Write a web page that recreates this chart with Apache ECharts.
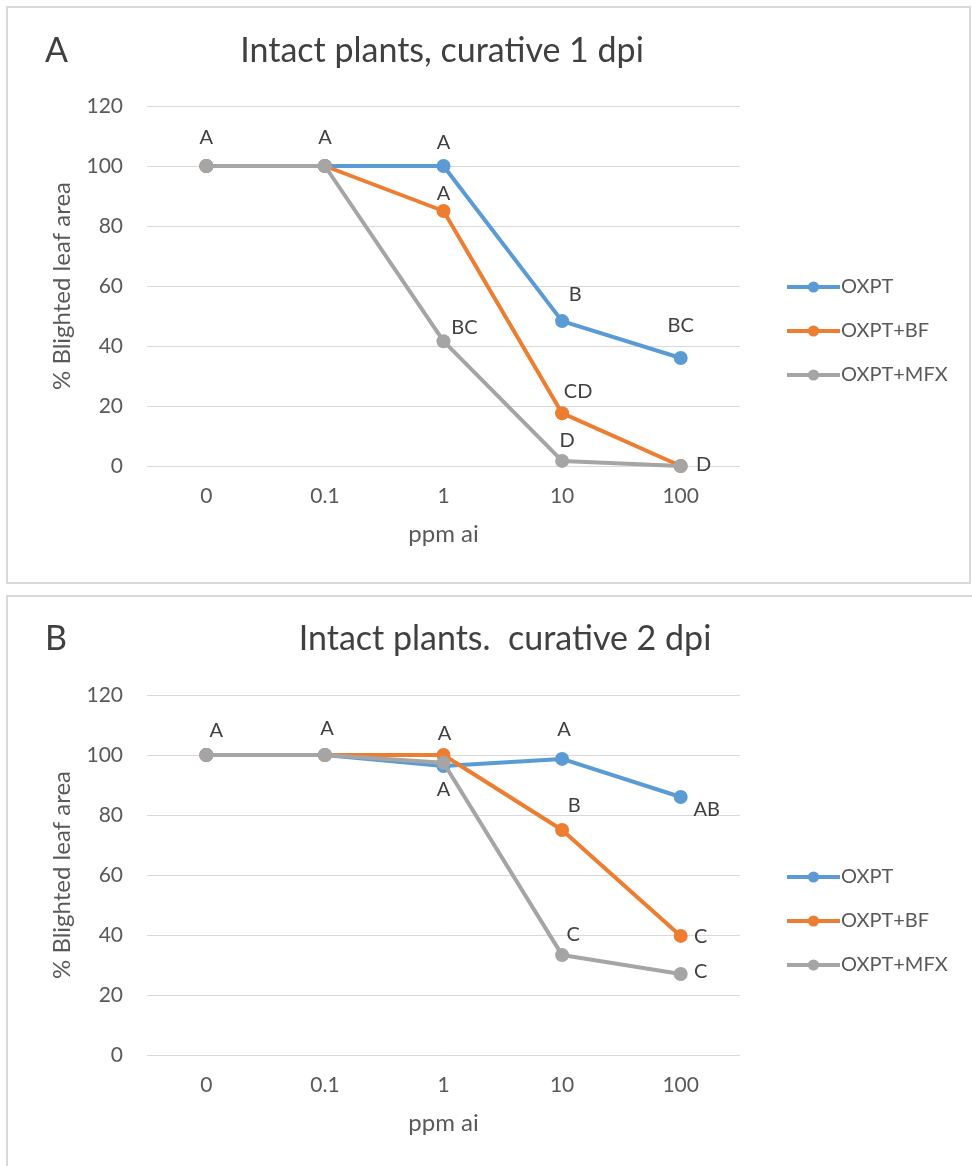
<!DOCTYPE html>
<html>
<head>
<meta charset="utf-8">
<script src="https://cdn.jsdelivr.net/npm/echarts@6/dist/echarts.min.js"></script>
<style>
html,body{margin:0;padding:0;background:#fff;}
#chart{width:972px;height:1166px;}
</style>
</head>
<body>
<div id="chart"></div>
<script>
// ---- data ----
const categories = ['0', '0.1', '1', '10', '100'];
const seriesNames = ['OXPT', 'OXPT+BF', 'OXPT+MFX'];
const yTicks = [0, 20, 40, 60, 80, 100, 120];

// Panel A: Intact plants, curative 1 dpi
const titleA = 'Intact plants, curative 1 dpi';
const oxptA = [100, 100, 100, 48.3, 36];
const oxptBfA = [100, 100, 85, 17.6, 0];
const oxptMfxA = [100, 100, 41.6, 1.7, 0];
const lettersOxptA = ['', '', 'A', 'B', 'BC'];
const lettersOxptBfA = ['', '', 'A', 'CD', ''];
const lettersOxptMfxA = ['A', 'A', 'BC', 'D', 'D'];

// Panel B: Intact plants. curative 2 dpi
const titleB = 'Intact plants.  curative 2 dpi';
const oxptB = [100, 100, 96.3, 98.7, 86];
const oxptBfB = [100, 100, 100, 75, 39.7];
const oxptMfxB = [100, 100, 97.4, 33.3, 27];
const lettersOxptB = ['', '', 'A', 'A', 'AB'];
const lettersOxptBfB = ['', '', 'A', 'B', 'C'];
const lettersOxptMfxB = ['A', 'A', '', 'C', 'C'];

// ---- styling (label offsets relative to point centre, px) ----
const offOxptA = [[0,0],[0,0],[0,-23],[13,-27],[0,-32]];
const offOxptBfA = [[0,0],[0,0],[0,-17],[16,-22],[0,0]];
const offOxptMfxA = [[0,-28],[0,-28],[21,-14],[5,-20],[23,-1]];
const offOxptB = [[0,0],[0,0],[0,23],[2,-29],[26,13]];
const offOxptBfB = [[0,0],[0,0],[1,-21],[12,-24],[20,1]];
const offOxptMfxB = [[10,-24],[2,-26],[0,0],[11,-21],[20,-2]];

const colors = ['#5B9BD5', '#ED7D31', '#A5A5A5'];
const FONT = 'Lato, "Open Sans", sans-serif';
const TXT = '#595959';

function mkData(vals, letters, offs) {
  return vals.map((v, i) => ({
    value: v,
    label: {
      show: letters[i] !== '',
      formatter: letters[i],
      position: 'inside',
      offset: offs[i]
    }
  }));
}

function mkSeries(name, idx, vals, letters, offs, axisIdx) {
  return {
    name: name,
    type: 'line',
    xAxisIndex: axisIdx,
    yAxisIndex: axisIdx,
    data: mkData(vals, letters, offs),
    symbol: 'circle',
    symbolSize: 14,
    color: colors[idx],
    lineStyle: { width: 4, color: colors[idx] },
    itemStyle: { color: colors[idx] },
    label: { fontFamily: FONT, fontSize: 20, color: '#404040' },
    emphasis: { disabled: true },
    animation: false,
    z: 2 + idx
  };
}

const gridTops = [106, 695];
const grids = gridTops.map(t => ({ left: 147, right: 232, top: t, height: 360 }));

function mkX(gi) {
  return {
    type: 'category', gridIndex: gi, data: categories, boundaryGap: true,
    axisLine: { show: false }, axisTick: { show: false },
    axisLabel: { color: TXT, fontFamily: FONT, fontSize: 21, margin: 20 },
    name: 'ppm ai', nameLocation: 'middle', nameGap: 56,
    nameTextStyle: { color: TXT, fontFamily: FONT, fontSize: 24 }
  };
}
function mkY(gi) {
  return {
    type: 'value', gridIndex: gi, min: yTicks[0], max: yTicks[yTicks.length - 1], interval: 20,
    axisLine: { show: false }, axisTick: { show: false },
    axisLabel: { color: TXT, fontFamily: FONT, fontSize: 21, margin: 24 },
    splitLine: { lineStyle: { color: '#D9D9D9', width: 1 } },
    name: '% Blighted leaf area', nameLocation: 'middle', nameGap: 73, nameRotate: 90,
    nameTextStyle: { color: TXT, fontFamily: FONT, fontSize: 24 }
  };
}

function mkLegend(top) {
  return {
    orient: 'vertical', left: 780, top: top, itemWidth: 53, itemHeight: 14, itemGap: 24,
    data: seriesNames,
    lineStyle: { width: 4 },
    textStyle: { color: TXT, fontFamily: FONT, fontSize: 20, padding: [0, 0, 0, -4] },
    selectedMode: false
  };
}

const chart = echarts.init(document.getElementById('chart'), null, { renderer: 'canvas' });
chart.setOption({
  backgroundColor: '#fff',
  animation: false,
  graphic: [
    { type: 'rect', shape: { x: 7, y: 7, width: 963, height: 576 }, style: { fill: 'none', stroke: '#D9D9D9', lineWidth: 2 }, z: -10 },
    { type: 'rect', shape: { x: 7, y: 596, width: 980, height: 600 }, style: { fill: 'none', stroke: '#D9D9D9', lineWidth: 2 }, z: -10 }
  ],
  title: [
    { text: 'A', left: 40, top: 29, textStyle: { color: '#404040', fontFamily: FONT, fontSize: 34, fontWeight: 'normal' } },
    { text: titleA, left: 437, top: 29, textAlign: 'center', textStyle: { color: '#404040', fontFamily: FONT, fontSize: 34, fontWeight: 'normal' } },
    { text: 'B', left: 40, top: 617, textStyle: { color: '#404040', fontFamily: FONT, fontSize: 34, fontWeight: 'normal' } },
    { text: titleB, left: 500, top: 617, textAlign: 'center', textStyle: { color: '#404040', fontFamily: FONT, fontSize: 34, fontWeight: 'normal' } }
  ],
  legend: [mkLegend(272), mkLegend(862)],
  grid: grids,
  xAxis: [mkX(0), mkX(1)],
  yAxis: [mkY(0), mkY(1)],
  series: [
    mkSeries(seriesNames[0], 0, oxptA, lettersOxptA, offOxptA, 0),
    mkSeries(seriesNames[1], 1, oxptBfA, lettersOxptBfA, offOxptBfA, 0),
    mkSeries(seriesNames[2], 2, oxptMfxA, lettersOxptMfxA, offOxptMfxA, 0),
    mkSeries(seriesNames[0], 0, oxptB, lettersOxptB, offOxptB, 1),
    mkSeries(seriesNames[1], 1, oxptBfB, lettersOxptBfB, offOxptBfB, 1),
    mkSeries(seriesNames[2], 2, oxptMfxB, lettersOxptMfxB, offOxptMfxB, 1)
  ]
});
</script>
</body>
</html>
